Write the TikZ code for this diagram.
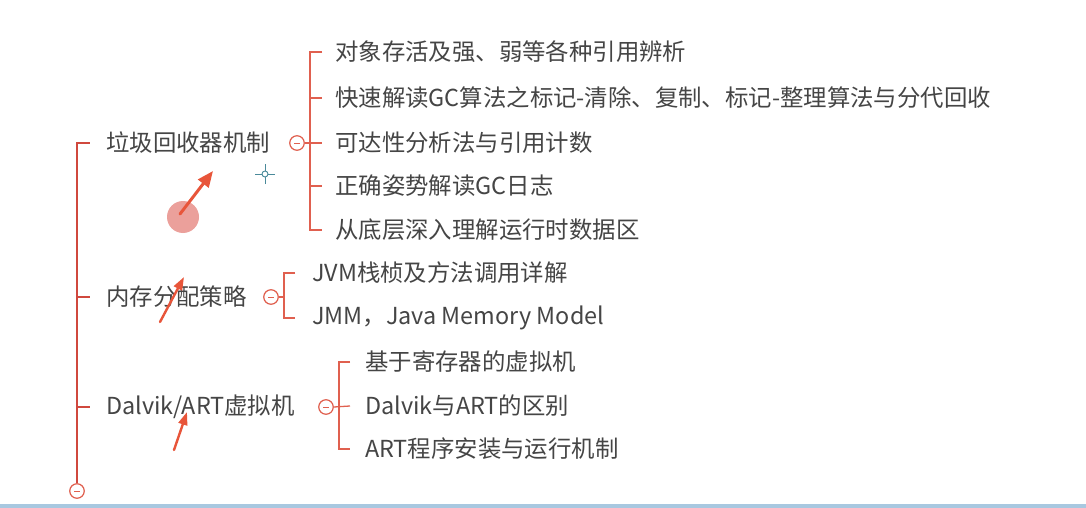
\documentclass[tikz,border=0pt]{standalone}
\usepackage{fontspec}
\newfontfamily\cjk{Noto Sans CJK SC}
\usetikzlibrary{arrows.meta}
\definecolor{ln}{HTML}{E0604F}
\definecolor{rootln}{HTML}{D0483E}
\definecolor{txt}{HTML}{454545}
\definecolor{pen}{HTML}{E8553A}
\definecolor{blob}{HTML}{E8908A}
\definecolor{cur}{HTML}{4A8A9A}
\definecolor{edge}{HTML}{A8C8E0}
\tikzset{
  lbl/.style={anchor=west, inner sep=0pt, text=txt, font=\cjk\fontsize{23.4}{25}\selectfont},
  fold/.style={circle, draw=ln, line width=1.2pt, minimum size=14.5pt, inner sep=0pt, fill=white,
    path picture={\draw[ln,line width=0.9pt] ([xshift=-3pt]path picture bounding box.center) -- ([xshift=3pt]path picture bounding box.center);}},
  br/.style={draw=ln, line width=1.3pt},
  rootline/.style={draw=rootln, line width=1.8pt},
  penarrow/.style={draw=pen, line width=3pt, line cap=round, -{Triangle[length=16pt,width=13pt]}},
}
\begin{document}
\begin{tikzpicture}[x=1pt,y=-1pt]
\useasboundingbox (0,0) rectangle (1086,508);
\fill[white] (0,0) rectangle (1086,508);
\fill[edge] (0,504) rectangle (1086,508);
% root
\node[fold] (root) at (77,491) {};
\coordinate (rtop) at (77,143);
% main nodes
\node[lbl] (m1) at (106,143) {垃圾回收器机制};
\node[lbl] (m2) at (106,297) {内存分配策略};
\node[lbl] (m3) at (106,407) {Dalvik/ART虚拟机};
\draw[rootline] (root.north) -- (rtop) -- ([xshift=-16pt]m1.west);
\draw[rootline] (77,297) -- ([xshift=-16pt]m2.west);
\draw[rootline] (77,407) -- ([xshift=-16pt]m3.west);
% fold markers
\node[fold] (c1) at (297,143) {};
\node[fold] (c2) at (271,297) {};
\node[fold] (c3) at (326,407) {};
% group 1
\node[lbl] (a1) at (335,52) {对象存活及强、弱等各种引用辨析};
\node[lbl] (a2) at (335,98) {快速解读GC算法之标记-清除、复制、标记-整理算法与分代回收};
\node[lbl] (a3) at (335,143) {可达性分析法与引用计数};
\node[lbl] (a4) at (335,186) {正确姿势解读GC日志};
\node[lbl] (a5) at (335,230) {从底层深入理解运行时数据区};
\draw[br] ([xshift=-13pt]a1.west) -| (310,143) |- ([xshift=-13pt]a5.west);
\draw[br] (310,98) -- ([xshift=-13pt]a2.west);
\draw[br] (c1.east) -- ([xshift=-13pt]a3.west);
\draw[br] (310,186) -- ([xshift=-13pt]a4.west);
% group 2
\node[lbl] (b1) at (312,273) {JVM栈桢及方法调用详解};
\node[lbl] (b2) at (312,318) {JMM，Java Memory Model};
\draw[br] ([xshift=-17pt]b1.west) -| (284,297) |- ([xshift=-17pt]b2.west);
\draw[br] (c2.east) -- (284,297);
% group 3
\node[lbl] (d1) at (365,362) {基于寄存器的虚拟机};
\node[lbl] (d2) at (365,406) {Dalvik与ART的区别};
\node[lbl] (d3) at (365,449) {ART程序安装与运行机制};
\draw[br] ([xshift=-15pt]d1.west) -| (339,406) |- ([xshift=-15pt]d3.west);
\draw[br] (c3.east) -- ([xshift=-15pt]d2.west);
% pen annotations
\fill[blob, opacity=0.85] (183,217) circle (16pt);
\coordinate (p1s) at (180,214);
\coordinate (p1e) at (213,171);
\draw[penarrow] (p1s) -- (p1e);
\coordinate (p2s) at (160,322);
\coordinate (p2e) at (184,277);
\draw[penarrow, line width=2.4pt, -{Triangle[length=13pt,width=9pt]}] (p2s) -- (p2e);
\coordinate (p3s) at (174,450);
\coordinate (p3e) at (187,412);
\draw[penarrow, line width=2.4pt, -{Triangle[length=13pt,width=9pt]}] (p3s) -- (p3e);
% cursor
\coordinate (cu) at (265,174);
\draw[cur, line width=0.9pt] (cu) circle (3pt);
\draw[cur, line width=0.9pt] ([xshift=-10pt]cu) -- ([xshift=-3pt]cu) ([xshift=3pt]cu) -- ([xshift=10pt]cu)
  ([yshift=-10pt]cu) -- ([yshift=-3pt]cu) ([yshift=3pt]cu) -- ([yshift=10pt]cu);
\end{tikzpicture}
\end{document}
